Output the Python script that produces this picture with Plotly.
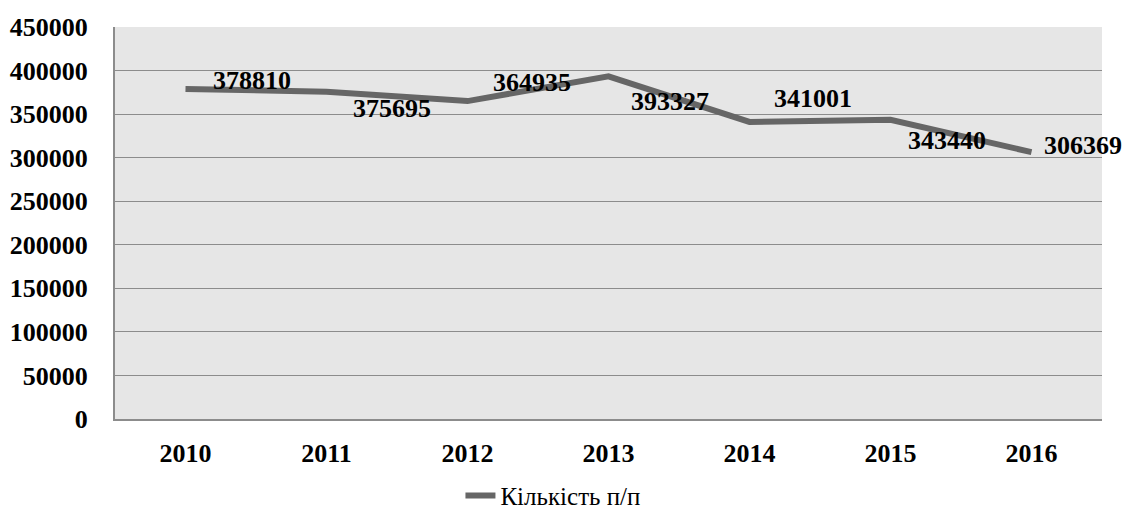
import plotly.graph_objects as go

years = ["2010", "2011", "2012", "2013", "2014", "2015", "2016"]
values = [378810, 375695, 364935, 393327, 341001, 343440, 306369]
series_name = "Кількість п/п"

# label offsets (pixels) relative to each point: style only
label_dx = [25, 24, 23, 20, 22, 15, 10]
label_dy = [9, -17, 19, -25, 23, -21, 7]

fig = go.Figure()
fig.add_trace(go.Scatter(
    x=years, y=values, mode="lines", name=series_name,
    line=dict(color="#666666", width=6),
))

for i, (v, dx, dy) in enumerate(zip(values, label_dx, label_dy)):
    fig.add_annotation(
        x=i, y=v, text=str(v), showarrow=False,
        xanchor="left", yanchor="middle", xshift=dx, yshift=dy,
        font=dict(family="Liberation Serif", size=26, color="black", weight="bold"),
    )

fig.update_layout(
    width=1125, height=515,
    margin=dict(l=115, r=23, t=27, b=96, autoexpand=False),
    paper_bgcolor="white", plot_bgcolor="#e6e6e6",
    showlegend=True,
    legend=dict(orientation="h", x=0.35, xanchor="left", y=-0.137, yanchor="top",
                font=dict(family="Liberation Serif", size=25, color="black")),
    xaxis=dict(
        type="category", range=[-0.5, 6.5], showgrid=False, showline=True,
        linecolor="#8c8c8c", linewidth=2, automargin=False,
        ticks="outside", ticklen=10, tickcolor="rgba(0,0,0,0)",
        tickfont=dict(family="Liberation Serif", size=26, color="black", weight="bold"),
    ),
    yaxis=dict(
        range=[0, 450000], dtick=50000, tickformat="d", automargin=False,
        showgrid=True, gridcolor="#8c8c8c", gridwidth=1,
        showline=True, linecolor="#8c8c8c", linewidth=2, zeroline=False,
        ticks="outside", ticklen=20, tickcolor="rgba(0,0,0,0)",
        tickfont=dict(family="Liberation Serif", size=26, color="black", weight="bold"),
    ),
)

fig.write_html(
    "out.html",
    config={"displayModeBar": False},
    post_script="document.body.style.margin='0';document.body.style.padding='0';document.body.style.overflow='hidden';",
)
